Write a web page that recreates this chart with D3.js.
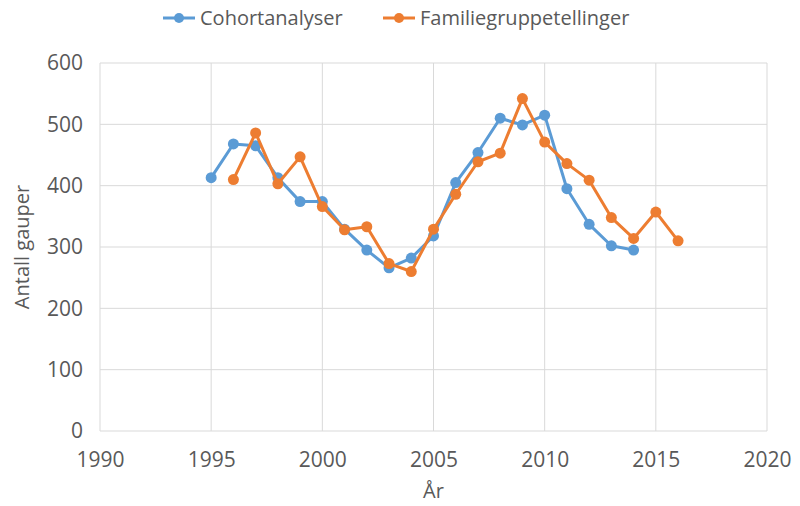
<!DOCTYPE html>
<html>
<head>
<meta charset="utf-8">
<script src="https://cdn.jsdelivr.net/npm/d3@7"></script>
<style>
  body { margin: 0; background: #fff; }
  text { font-family: "Open Sans", sans-serif; fill: #595959; }
</style>
</head>
<body>
<div id="chart"></div>
<script>
const cohortYears = [1995, 1996, 1997, 1998, 1999, 2000, 2001, 2002, 2003, 2004, 2005, 2006, 2007, 2008, 2009, 2010, 2011, 2012, 2013, 2014];
const cohortValues = [413, 468, 465, 413, 374, 374, 329, 295, 266, 282, 318, 405, 454, 510, 499, 515, 395, 337, 302, 295];
const familyYears = [1996, 1997, 1998, 1999, 2000, 2001, 2002, 2003, 2004, 2005, 2006, 2007, 2008, 2009, 2010, 2011, 2012, 2013, 2014, 2015, 2016];
const familyValues = [410, 486, 403, 447, 366, 328, 333, 273, 260, 329, 386, 439, 453, 542, 471, 436, 409, 348, 314, 357, 310];
const xTicks = [1990, 1995, 2000, 2005, 2010, 2015, 2020];
const yTicks = [0, 100, 200, 300, 400, 500, 600];
const seriesNames = ['Cohortanalyser', 'Familiegruppetellinger'];

const width = 800, height = 506;
const margin = { top: 63, right: 33, bottom: 75, left: 100 };

const svg = d3.select('#chart')
  .append('svg')
  .attr('width', width)
  .attr('height', height);

const x = d3.scaleLinear()
  .domain([1990, 2020])
  .range([margin.left, width - margin.right]);

const y = d3.scaleLinear()
  .domain([0, 600])
  .range([height - margin.bottom, margin.top]);

// gridlines
svg.append('g')
  .selectAll('line')
  .data(yTicks)
  .enter()
  .append('line')
  .attr('x1', x(1990)).attr('x2', x(2020))
  .attr('y1', d => y(d)).attr('y2', d => y(d))
  .attr('stroke', '#d9d9d9').attr('stroke-width', 1);

svg.append('g')
  .selectAll('line')
  .data(xTicks)
  .enter()
  .append('line')
  .attr('x1', d => x(d)).attr('x2', d => x(d))
  .attr('y1', y(0)).attr('y2', y(600))
  .attr('stroke', '#d9d9d9').attr('stroke-width', 1);

// axes (labels only)
const xAxis = svg.append('g')
  .attr('transform', `translate(0,${y(0)})`)
  .call(d3.axisBottom(x).tickValues(xTicks).tickFormat(d3.format('d')).tickSize(0).tickPadding(21));
xAxis.select('.domain').remove();
xAxis.selectAll('text').style('font-size', '21px').attr('fill', '#595959');

const yAxis = svg.append('g')
  .attr('transform', `translate(${margin.left},0)`)
  .call(d3.axisLeft(y).tickValues(yTicks).tickSize(0).tickPadding(17));
yAxis.select('.domain').remove();
yAxis.selectAll('text').style('font-size', '21px').attr('fill', '#595959');

// axis titles
svg.append('text')
  .attr('x', x(2005))
  .attr('y', 498)
  .attr('text-anchor', 'middle')
  .style('font-size', '20px')
  .text('År');

svg.append('text')
  .attr('transform', `translate(29,${y(300)}) rotate(-90)`)
  .attr('text-anchor', 'middle')
  .style('font-size', '20px')
  .text('Antall gauper');

// series
const series = [
  { name: seriesNames[0], color: '#5B9BD5', data: cohortYears.map((yr, i) => ({ yr, v: cohortValues[i] })) },
  { name: seriesNames[1], color: '#ED7D31', data: familyYears.map((yr, i) => ({ yr, v: familyValues[i] })) }
];

const line = d3.line().x(d => x(d.yr)).y(d => y(d.v));

series.forEach(s => {
  svg.append('path')
    .datum(s.data)
    .attr('d', line)
    .attr('fill', 'none')
    .attr('stroke', s.color)
    .attr('stroke-width', 3)
    .attr('stroke-linejoin', 'round');

  svg.append('g')
    .selectAll('circle')
    .data(s.data)
    .enter()
    .append('circle')
    .attr('cx', d => x(d.yr))
    .attr('cy', d => y(d.v))
    .attr('r', 5.5)
    .attr('fill', s.color);
});

// legend
const legendX = [163, 383];
series.forEach((s, i) => {
  const g = svg.append('g').attr('transform', `translate(${legendX[i]},18)`);
  g.append('line')
    .attr('x1', 0).attr('x2', 32)
    .attr('stroke', s.color).attr('stroke-width', 3);
  g.append('circle').attr('cx', 16).attr('r', 5).attr('fill', s.color);
  g.append('text')
    .attr('x', 37).attr('y', 7)
    .style('font-size', '20px')
    .text(s.name);
});
</script>
</body>
</html>
